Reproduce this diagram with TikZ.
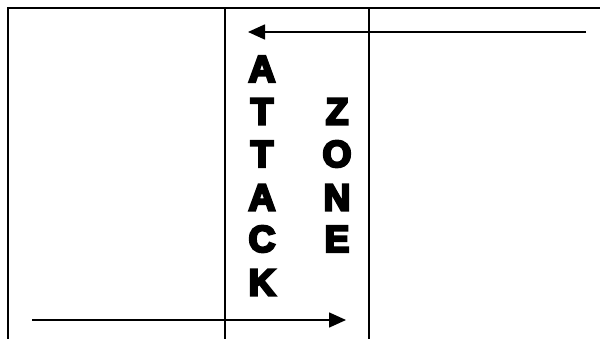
\documentclass[tikz,border=0pt]{standalone}
\usepackage{fontspec}
\newfontfamily\zonefont[FakeBold=7]{Liberation Sans Bold}
\usetikzlibrary{arrows.meta}

\begin{document}
\begin{tikzpicture}[x=1pt,y=1pt,yscale=-1,xscale=1,
  letter/.style={inner sep=0pt,font=\zonefont\fontsize{37}{37}\selectfont},
  rule/.style={line width=1.6pt},
  push/.style={line width=1.6pt,-{Triangle[length=17pt,width=15pt]}}]
\useasboundingbox (0,0) rectangle (600,339); %picture is 600 wide and 339 high

% Frame
\coordinate (frameTL) at (8,8);
\coordinate (frameTR) at (600,8);
\coordinate (frameBL) at (8,339);
\draw [rule, line width=2pt]  (frameBL) -- (frameTL) -- (frameTR) ;
% Zone borders
\coordinate (zoneLT) at (225,8);
\coordinate (zoneLB) at (225,339);
\coordinate (zoneRT) at (369,8);
\coordinate (zoneRB) at (369,339);
\draw [rule]  (zoneLT) -- (zoneLB) ;
\draw [rule]  (zoneRT) -- (zoneRB) ;

% Text Node
\node (atkA) [letter] at (262,69) {A};
% Text Node
\node (atkT) [letter] at (262,111.5) {T};
% Text Node
\node (atkTT) [letter] at (262,154) {T};
% Text Node
\node (atkAA) [letter] at (262,197.5) {A};
% Text Node
\node (atkC) [letter] at (262,239) {C};
% Text Node
\node (atkK) [letter] at (262,282.5) {K};
% Text Node
\node (zoneZ) [letter] at (337,111.5) {Z};
% Text Node
\node (zoneO) [letter] at (337,154) {O};
% Text Node
\node (zoneN) [letter] at (337,197.5) {N};
% Text Node
\node (zoneE) [letter] at (337,239) {E};

% Connection
\coordinate (inStart) at (586,32);
\coordinate (inEnd) at (248,32);
\draw [push]  (inStart) -- (inEnd) ;
% Connection
\coordinate (outStart) at (32,320);
\coordinate (outEnd) at (346,320);
\draw [push]  (outStart) -- (outEnd) ;

\end{tikzpicture}
\end{document}
